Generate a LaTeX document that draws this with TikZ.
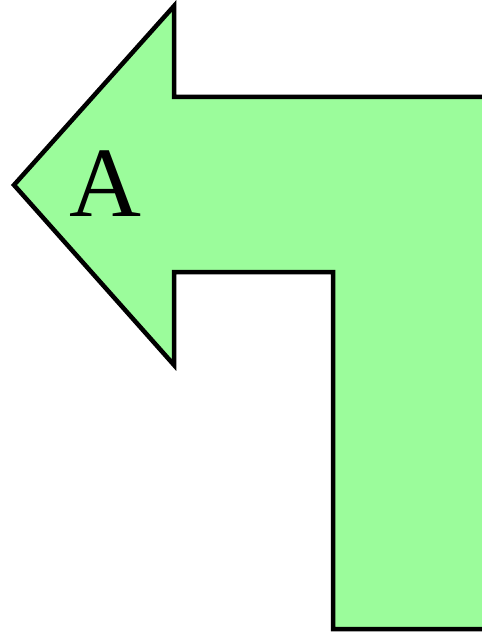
\documentclass[tikz,border=0pt]{standalone}
\usepackage{fontspec}
\setmainfont{Liberation Serif}
\usepackage{xcolor}
\definecolor{arrowgreen}{RGB}{155,252,155}

\tikzset{
  bentarrow/.style={draw=black, fill=arrowgreen, line width=4.5bp, line join=miter},
  arrowlabel/.style={font=\fontsize{100}{100}\selectfont, inner sep=0pt}
}

\begin{document}
\begin{tikzpicture}[x=1bp, y=-1bp]
  \useasboundingbox (0,0) rectangle (482,634);
  \clip (0,0) rectangle (482,634);
  % bent arrow pointing left
  \draw[bentarrow] (14,185) -- (174,6) -- (174,97) -- (500,97)
    -- (500,629) -- (333,629) -- (333,272) -- (174,272) -- (174,365) -- cycle;
  \node[arrowlabel] (lblA) at (105,184) {A};
\end{tikzpicture}
\end{document}
